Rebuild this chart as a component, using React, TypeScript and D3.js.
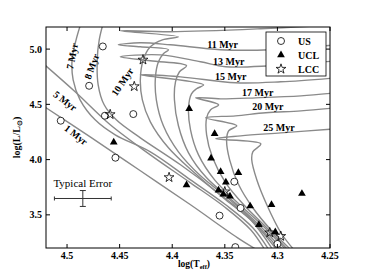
import { useEffect, useRef } from 'react';
import * as d3 from 'd3';

// isochrones, [log Teff, log L]
const iso01 = [[4.5257,4.505],[4.478,4.206],[4.4303,3.899],[4.3826,3.591],[4.3378,3.292],[4.3196,3.184]];
const iso05 = [[4.5257,4.894],[4.4923,4.614],[4.4589,4.315],[4.4208,4.043],[4.3826,3.79],[4.3492,3.564],[4.3254,3.365],[4.312,3.184]];
const iso07 = [[4.4857,5.265],[4.4914,5.084],[4.4952,4.903],[4.4942,4.722],[4.4876,4.541],[4.4733,4.36],[4.4542,4.224],[4.4208,4.07],[4.3826,3.817],[4.3492,3.591],[4.3234,3.383],[4.3082,3.184]];
const iso08 = [[4.4647,5.265],[4.4694,5.084],[4.4713,4.903],[4.4704,4.677],[4.4647,4.496],[4.4532,4.36],[4.4303,4.197],[4.3921,3.953],[4.354,3.681],[4.3254,3.455],[4.3044,3.184]];
const iso10 = [[4.3006,3.184],[4.3234,3.437],[4.3492,3.636],[4.3778,3.871],[4.4036,4.107],[4.4208,4.342],[4.4284,4.541],[4.4303,4.722],[4.4275,4.903],[4.4208,5.021],[4.4093,5.084],[4.3941,5.111],[4.4494,5.166],[4.4017,5.157],[4.3158,5.184],[4.2442,5.22]];
const iso11 = [[4.2977,3.184],[4.3215,3.428],[4.3463,3.645],[4.3731,3.853],[4.3941,4.07],[4.4084,4.306],[4.4151,4.541],[4.416,4.74],[4.4131,4.885],[4.4084,4.958],[4.4036,4.994],[4.4303,5.021],[4.4513,5.039],[4.4303,5.057],[4.4017,5.039],[4.354,4.994],[4.3063,4.994],[4.2442,5.039]];
const iso13 = [[4.2948,3.184],[4.3177,3.41],[4.3425,3.627],[4.3673,3.835],[4.3845,4.061],[4.3941,4.306],[4.3979,4.541],[4.3969,4.704],[4.3931,4.795],[4.3864,4.849],[4.4208,4.894],[4.4494,4.93],[4.4112,4.948],[4.3731,4.885],[4.3492,4.84],[4.3063,4.849],[4.2442,4.894]];
const iso15 = [[4.292,3.184],[4.3139,3.401],[4.3378,3.609],[4.3597,3.817],[4.375,4.043],[4.3826,4.27],[4.3845,4.469],[4.3817,4.595],[4.3769,4.641],[4.3702,4.677],[4.4303,4.767],[4.3921,4.749],[4.3397,4.695],[4.2967,4.704],[4.2442,4.74]];
const iso17 = [[4.2901,3.184],[4.3101,3.383],[4.3311,3.582],[4.3492,3.79],[4.3616,4.016],[4.3673,4.224],[4.3673,4.378],[4.3635,4.451],[4.3559,4.496],[4.3778,4.559],[4.354,4.55],[4.3206,4.559],[4.2776,4.577],[4.2442,4.6045]];
const iso20 = [[4.2872,3.184],[4.3063,3.365],[4.3234,3.564],[4.3368,3.772],[4.3454,3.998],[4.3483,4.179],[4.3463,4.261],[4.3387,4.306],[4.3683,4.378],[4.3397,4.396],[4.3111,4.4235],[4.2776,4.441],[4.2442,4.469]];
const iso25 = [[4.2843,3.184],[4.2967,3.338],[4.3101,3.591],[4.3196,3.817],[4.3244,3.998],[4.3234,4.07],[4.3158,4.143],[4.3587,4.188],[4.3349,4.215],[4.2967,4.242],[4.2442,4.279]];

const isochrones = [iso01, iso05, iso07, iso08, iso10, iso11, iso13, iso15, iso17, iso20, iso25];
const ageLabels = ['1 Myr', '5 Myr', '7 Myr', '8 Myr', '10 Myr', '11 Myr', '13 Myr', '15 Myr', '17 Myr', '20 Myr', '25 Myr'];
// label anchor [logT, logL, rotation]
const labelAnchors = [[4.4914,4.224,38],[4.5019,4.532,37],[4.4952,4.936,-79],[4.4766,4.843,-70],[4.4475,4.704,-56],[4.3521,5.012,0],[4.3463,4.858,0],[4.3444,4.722,0],[4.3187,4.577,0],[4.3091,4.451,0],[4.2986,4.261,0]];

const usStars = [[4.466,5.024],[4.479,4.668],[4.464,4.397],[4.437,4.412],[4.506,4.352],[4.454,4.017],[4.341,3.8],[4.335,3.562],[4.355,3.493],[4.34,3.208],[4.3,3.237]];
const uclStars = [[4.4556,4.157],[4.3839,4.46],[4.3597,4.234],[4.3631,4.013],[4.354,3.891],[4.3371,3.882],[4.349,3.796],[4.356,3.723],[4.3514,3.687],[4.3451,3.669],[4.3259,3.579],[4.3056,3.592],[4.2767,3.692],[4.3864,3.771],[4.3176,3.41],[4.302,3.344]];
const lccStars = [[4.4278,4.903],[4.4361,4.662],[4.459,4.409],[4.403,3.839],[4.35,3.71],[4.3073,3.339],[4.2968,3.307]];

const xTicks = [4.5, 4.45, 4.4, 4.35, 4.3, 4.25];
const xTickLabels = ['4.5', '4.45', '4.4', '4.35', '4.3', '4.25'];
const yTicks = [3.5, 4.0, 4.5, 5.0];
const yTickLabels = ['3.5', '4.0', '4.5', '5.0'];

const errCenter = [4.485, 3.648];
const errHalf = [0.027, 0.072];

const legendItems = ['US', 'UCL', 'LCC'];

export default function App() {
  const svgRef = useRef(null);
  const width = 366;
  const height = 276;
  const margin = { top: 27, right: 36, bottom: 28, left: 46 };

  useEffect(() => {
    const svg = d3.select(svgRef.current);
    svg.selectAll('*').remove();
    const font = '"Liberation Serif", serif';

    const x = d3.scaleLinear().domain([4.52, 4.25]).range([margin.left, width - margin.right]);
    const y = d3.scaleLinear().domain([3.2, 5.2]).range([height - margin.bottom, margin.top]);

    svg.append('defs').append('clipPath').attr('id', 'plot')
      .append('rect')
      .attr('x', margin.left).attr('y', margin.top)
      .attr('width', width - margin.left - margin.right)
      .attr('height', height - margin.top - margin.bottom);

    const g = svg.append('g').attr('clip-path', 'url(#plot)');

    const line = d3.line().x(d => x(d[0])).y(d => y(d[1])).curve(d3.curveCatmullRom.alpha(0.5));
    isochrones.forEach(iso => {
      g.append('path').attr('d', line(iso))
        .attr('fill', 'none').attr('stroke', '#8a8a8a').attr('stroke-width', 1.4);
    });

    // age labels
    ageLabels.forEach((t, i) => {
      const [lt, ll, rot] = labelAnchors[i];
      g.append('text')
        .attr('transform', `translate(${x(lt)},${y(ll)}) rotate(${rot})`)
        .attr('text-anchor', 'middle')
        .attr('dominant-baseline', rot === 0 ? 'auto' : 'central')
        .attr('font-family', font).attr('font-weight', 'bold').attr('font-size', 10)
        .text(t);
    });

    // stars
    g.selectAll('.us').data(usStars).join('circle')
      .attr('cx', d => x(d[0])).attr('cy', d => y(d[1])).attr('r', 3.5)
      .attr('fill', 'white').attr('stroke', 'black').attr('stroke-width', 0.8);
    const tri = d3.symbol().type(d3.symbolTriangle).size(26);
    g.selectAll('.ucl').data(uclStars).join('path')
      .attr('d', tri).attr('transform', d => `translate(${x(d[0])},${y(d[1])})`)
      .attr('fill', 'black');
    const star = d3.symbol().type(d3.symbolStar).size(30);
    g.selectAll('.lcc').data(lccStars).join('path')
      .attr('d', star).attr('transform', d => `translate(${x(d[0])},${y(d[1])})`)
      .attr('fill', 'none').attr('stroke', 'black').attr('stroke-width', 0.8);

    // typical error
    const ex = x(errCenter[0]), ey = y(errCenter[1]);
    const x0 = x(errCenter[0] + errHalf[0]), x1 = x(errCenter[0] - errHalf[0]);
    const y0 = y(errCenter[1] + errHalf[1]), y1 = y(errCenter[1] - errHalf[1]);
    const eg = svg.append('g').attr('stroke', '#333').attr('stroke-width', 1);
    eg.append('line').attr('x1', x0).attr('x2', x1).attr('y1', ey).attr('y2', ey);
    eg.append('line').attr('x1', ex).attr('x2', ex).attr('y1', y0).attr('y2', y1);
    eg.append('line').attr('x1', x0).attr('x2', x0).attr('y1', ey - 2).attr('y2', ey + 2);
    eg.append('line').attr('x1', x1).attr('x2', x1).attr('y1', ey - 2).attr('y2', ey + 2);
    eg.append('line').attr('x1', ex - 3).attr('x2', ex + 3).attr('y1', y0).attr('y2', y0);
    eg.append('line').attr('x1', ex - 3).attr('x2', ex + 3).attr('y1', y1).attr('y2', y1);
    svg.append('text').attr('x', ex).attr('y', y0 - 4).attr('text-anchor', 'middle')
      .attr('font-family', font).attr('font-size', 11).text('Typical Error');

    // frame and ticks
    const plotW = width - margin.left - margin.right;
    const plotH = height - margin.top - margin.bottom;
    svg.append('rect').attr('x', margin.left).attr('y', margin.top)
      .attr('width', plotW).attr('height', plotH)
      .attr('fill', 'none').attr('stroke', 'black').attr('stroke-width', 1);

    const tickLen = 4;
    xTicks.forEach((v, i) => {
      const px = x(v);
      svg.append('line').attr('x1', px).attr('x2', px).attr('y1', margin.top + plotH).attr('y2', margin.top + plotH - tickLen).attr('stroke', 'black');
      svg.append('line').attr('x1', px).attr('x2', px).attr('y1', margin.top).attr('y2', margin.top + tickLen).attr('stroke', 'black');
      svg.append('text').attr('x', px).attr('y', margin.top + plotH + 10.5).attr('text-anchor', 'middle')
        .attr('font-family', font).attr('font-weight', 'bold').attr('font-size', 10).text(xTickLabels[i]);
    });
    yTicks.forEach((v, i) => {
      const py = y(v);
      svg.append('line').attr('x1', margin.left).attr('x2', margin.left + tickLen).attr('y1', py).attr('y2', py).attr('stroke', 'black');
      svg.append('line').attr('x1', margin.left + plotW).attr('x2', margin.left + plotW - tickLen).attr('y1', py).attr('y2', py).attr('stroke', 'black');
      svg.append('text').attr('x', margin.left - 4).attr('y', py).attr('text-anchor', 'end')
        .attr('dominant-baseline', 'central')
        .attr('font-family', font).attr('font-weight', 'bold').attr('font-size', 10).text(yTickLabels[i]);
    });

    // axis titles
    const xt = svg.append('text').attr('x', 194).attr('y', 267)
      .attr('text-anchor', 'middle').attr('font-family', font).attr('font-weight', 'bold').attr('font-size', 9.5);
    xt.append('tspan').text('log(T');
    xt.append('tspan').attr('font-size', 6.5).attr('dy', 2).text('eff');
    xt.append('tspan').attr('dy', -2).text(')');

    const yt = svg.append('text')
      .attr('transform', `translate(20,${margin.top + plotH / 2}) rotate(-90)`)
      .attr('text-anchor', 'middle').attr('font-family', font).attr('font-weight', 'bold').attr('font-size', 10);
    yt.append('tspan').text('log(L/L');
    yt.append('tspan').attr('font-size', 6.5).attr('dy', 2).text('\u2299');
    yt.append('tspan').attr('dy', -2).text(')');

    // legend
    const lg = svg.append('g').attr('transform', 'translate(266,32)');
    lg.append('rect').attr('width', 60).attr('height', 44).attr('fill', 'white').attr('stroke', 'black').attr('stroke-width', 0.8);
    legendItems.forEach((t, i) => {
      const cy = 9 + i * 14;
      if (i === 0) lg.append('circle').attr('cx', 15).attr('cy', cy).attr('r', 3.5).attr('fill', 'white').attr('stroke', 'black').attr('stroke-width', 0.8);
      if (i === 1) lg.append('path').attr('d', tri).attr('transform', `translate(15,${cy})`).attr('fill', 'black');
      if (i === 2) lg.append('path').attr('d', star).attr('transform', `translate(15,${cy})`).attr('fill', 'none').attr('stroke', 'black').attr('stroke-width', 0.8);
      lg.append('text').attr('x', 32).attr('y', cy).attr('dominant-baseline', 'central')
        .attr('font-family', font).attr('font-weight', 'bold').attr('font-size', 10).text(t);
    });
  }, []);

  return <svg ref={svgRef} width={width} height={height} style={{ position: 'absolute', left: 0, top: 0 }} />;
}
